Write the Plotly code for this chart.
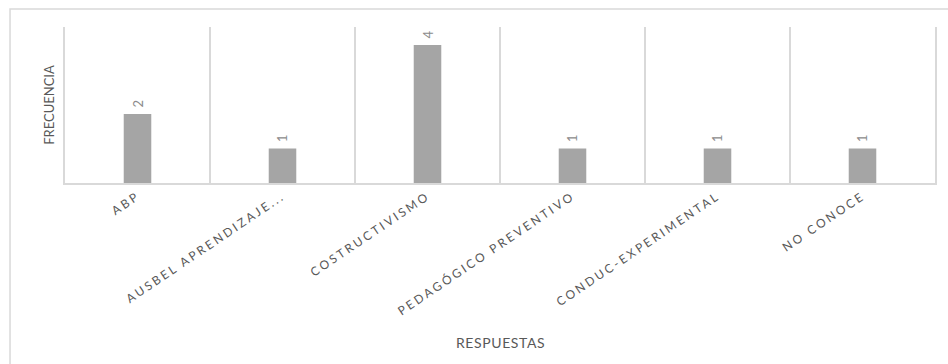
import plotly.graph_objects as go

# Survey answers and their frequencies
respuestas = ["ABP", "AUSBEL APRENDIZAJE...", "COSTRUCTIVISMO", "PEDAGÓGICO PREVENTIVO",
              "CONDUC-EXPERIMENTAL", "NO CONOCE"]
frecuencia = [2, 1, 4, 1, 1, 1]

GRID = "#d9d9d9"
TEXT = "#595959"
BAR = "#a5a5a5"


def spaced(label, px):
    return f'<span style="letter-spacing:{px}px">{label}</span>'


fig = go.Figure(
    go.Bar(
        x=respuestas,
        y=frecuencia,
        marker=dict(color=BAR, line=dict(width=0)),
        width=0.19,
        cliponaxis=False,
    )
)

# Value labels, rotated, just above each bar
for cat, val in zip(respuestas, frecuencia):
    fig.add_annotation(
        x=cat, y=val, xref="x", yref="y",
        text=str(val),
        textangle=-90,
        showarrow=False,
        yanchor="bottom",
        yshift=4,
        font=dict(family="Lato, sans-serif", size=13, color="#8c8c8c"),
    )

fig.update_layout(
    width=948,
    height=364,
    margin=dict(l=65, r=13, t=27, b=181),
    paper_bgcolor="white",
    plot_bgcolor="white",
    showlegend=False,
    font=dict(family="Lato, sans-serif", color=TEXT),
    xaxis=dict(
        type="category",
        tickson="boundaries",
        showgrid=True,
        gridcolor=GRID,
        gridwidth=1.5,
        showline=True,
        linecolor=GRID,
        linewidth=1.5,
        ticks="",
        tickangle=-34,
        tickvals=respuestas,
        ticktext=[spaced(r, 2.6) for r in respuestas],
        tickfont=dict(family="Lato, sans-serif", size=12, color=TEXT),
        automargin=False,
    ),
    yaxis=dict(
        range=[0, 4.52],
        showgrid=False,
        showticklabels=False,
        ticks="",
        showline=True,
        linecolor=GRID,
        linewidth=1.5,
        mirror=True,
        zeroline=False,
        title=dict(text="FRECUENCIA", font=dict(size=13, color=TEXT), standoff=6),
        automargin=False,
    ),
)

# Horizontal axis title placed low under the slanted labels
fig.add_annotation(
    xref="paper", yref="paper", x=0.5, y=-1.02,
    text=spaced("RESPUESTAS", 0.6),
    showarrow=False, yanchor="middle",
    font=dict(family="Lato, sans-serif", size=14, color=TEXT),
)

# Light outer frame of the chart area
fig.add_shape(
    type="rect",
    xref="paper", yref="paper",
    x0=-0.0632, x1=1.2, y0=-1.5, y1=1.115,
    line=dict(color=GRID, width=1.5),
    fillcolor="rgba(0,0,0,0)",
    layer="below",
)

fig.write_html("out.html")
